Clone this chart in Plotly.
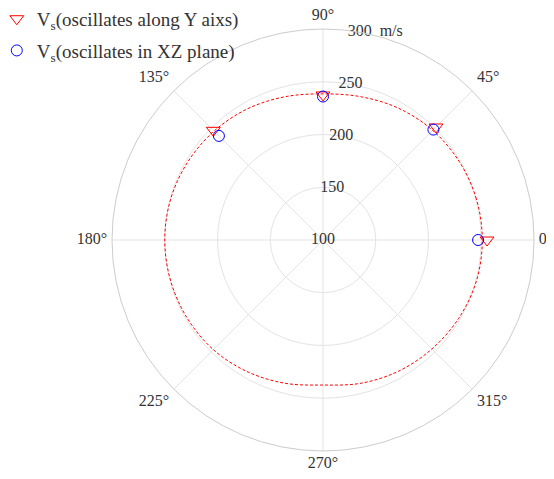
import plotly.graph_objects as go

# Data
angles_deg = [0, 45, 90, 135]
vs_y = [255.5, 251.5, 237.5, 247.0]      # oscillates along Y axis (triangles)
vs_xz = [247.0, 248.0, 236.0, 239.5]     # oscillates in XZ plane (circles)

curve_theta = [0, 15, 30, 45, 60, 75, 90, 105, 120, 135, 150, 165, 180,
               195, 210, 225, 240, 255, 270, 285, 300, 315, 330, 345, 360]
curve_r = [251, 250.5, 249, 247, 244, 240.5, 238.5, 240.5, 243.5, 246, 248, 249.5, 250,
           249.5, 248.5, 247, 244, 240.5, 237.5, 240.5, 243.5, 246, 248.5, 250.5, 251]

radial_ticks = [100, 150, 200, 250, 300]
radial_unit = "m/s"
angular_ticks = [0, 45, 90, 135, 180, 225, 270, 315]
angular_labels = [f"{a}°" for a in angular_ticks]
angular_label_pos = ["middle right", "top right", "top center", "top left",
                     "middle left", "bottom left", "bottom center", "bottom right"]

FONT = "Times New Roman, Liberation Serif, serif"
TXT = "#333333"
R_MAX = radial_ticks[-1]

fig = go.Figure()

fig.add_trace(go.Scatterpolar(
    r=curve_r, theta=curve_theta, mode="lines",
    line=dict(color="red", width=1, dash="3px,2px", shape="spline"),
    showlegend=False, hoverinfo="skip"))

fig.add_trace(go.Scatterpolar(
    r=vs_y, theta=angles_deg, mode="markers", legendgroup="a",
    name="V<sub>s</sub>(oscillates along Y aixs)",
    marker=dict(symbol="triangle-down-open", size=12, color="red", line=dict(width=1))))

fig.add_trace(go.Scatterpolar(
    r=vs_xz, theta=angles_deg, mode="markers", legendgroup="b",
    name="V<sub>s</sub>(oscillates in XZ plane)",
    marker=dict(symbol="circle-open", size=11, color="blue", line=dict(width=1))))

# radial tick labels drawn along ~80 degrees
fig.add_trace(go.Scatterpolar(
    r=radial_ticks, theta=[80] * len(radial_ticks), mode="text",
    text=[str(v) for v in radial_ticks], textposition="middle center",
    textfont=dict(family=FONT, size=16, color=TXT),
    showlegend=False, hoverinfo="skip"))
fig.add_trace(go.Scatterpolar(
    r=[R_MAX], theta=[80], mode="text",
    text=["\u00a0" * 5 + radial_unit], textposition="middle right",
    textfont=dict(family=FONT, size=16, color=TXT),
    showlegend=False, hoverinfo="skip"))

# angular tick labels just outside the outer circle (invisible markers set the offset)
fig.add_trace(go.Scatterpolar(
    r=[R_MAX] * len(angular_ticks), theta=angular_ticks, mode="markers+text",
    text=angular_labels, textposition=angular_label_pos, cliponaxis=False,
    marker=dict(size=6, color="rgba(0,0,0,0)"),
    textfont=dict(family=FONT, size=16, color=TXT),
    showlegend=False, hoverinfo="skip"))

# page has an 8px body margin; margins are shifted to compensate
fig.update_layout(
    width=554, height=479,
    margin=dict(l=104, r=28, t=21, b=36, autoexpand=False),
    paper_bgcolor="white", plot_bgcolor="white",
    font=dict(family=FONT, size=16, color=TXT),
    polar=dict(
        bgcolor="white",
        radialaxis=dict(range=[100, 300], tickvals=radial_ticks, showticklabels=False,
                        ticks="", showline=False, gridcolor="#e3e3e3", gridwidth=1,
                        angle=90),
        angularaxis=dict(rotation=0, direction="counterclockwise",
                         tickvals=angular_ticks, showticklabels=False, ticks="",
                         showline=True, linecolor="#cccccc", linewidth=1,
                         gridcolor="#e3e3e3", gridwidth=1),
    ),
    legend=dict(x=-0.273, y=1.069, xanchor="left", yanchor="top",
                bgcolor="rgba(0,0,0,0)",
                font=dict(family=FONT, size=19, color=TXT), tracegroupgap=4),
)

fig.write_html("out.html")
